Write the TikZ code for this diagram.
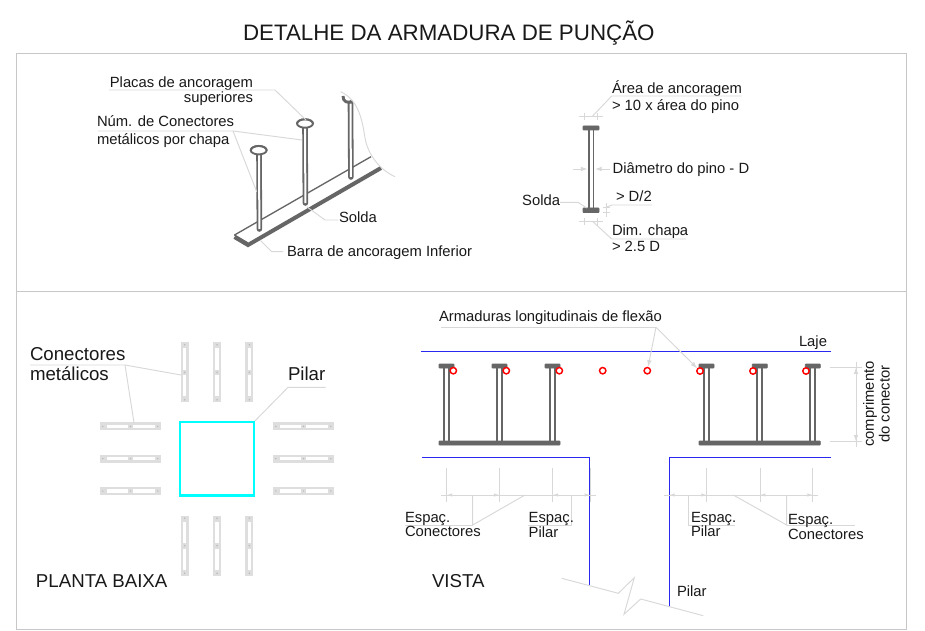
\documentclass[tikz,border=0pt]{standalone}
\usepackage{fontspec}
\setmainfont{Liberation Sans}
\usetikzlibrary{arrows.meta}
\definecolor{leadc}{RGB}{216,216,216}
\definecolor{barc}{RGB}{222,222,222}
\definecolor{steel}{RGB}{102,102,102}
\definecolor{pilarcyan}{RGB}{0,255,255}
\definecolor{edgeblue}{RGB}{40,40,240}
\tikzset{
 lbl/.style={anchor=base west,inner sep=0pt,outer sep=0pt,font=\fontsize{11.1pt}{13pt}\selectfont,text=black!90},
 lblr/.style={lbl,anchor=base east},
 big/.style={lbl,font=\fontsize{14pt}{16pt}\selectfont},
 leader/.style={draw=leadc,line width=.7pt},
 frameline/.style={draw=black!22,line width=.5pt},
 dimtip/.style={leader,{Latex[length=4pt,width=2.5pt,fill=leadc]}-{Latex[length=4pt,width=2.5pt,fill=leadc]}},
 tip/.style={leader,-{Latex[length=5pt,width=3.5pt,fill=leadc]}},
 concreteedge/.style={draw=edgeblue,line width=1pt},
 steelline/.style={draw=steel,line width=1.3pt},
 steelfill/.style={draw=steel,fill=steel,line width=.5pt,rounded corners=.4pt},
 rebar/.style={draw=red,line width=1.1pt,fill=white,circle,minimum size=4.8pt,inner sep=0pt},
 barbox/.style={fill=barc,draw=none},
 slot/.style={fill=white,draw=none}
}
\newcommand{\horbar}[2]{% left x, centre y
 \fill[barbox] (#1,#2-4) rectangle (#1+60.5,#2+4);
 \fill[slot] (#1+6.5,#2-1.7) rectangle (#1+28,#2+1.7);
 \fill[slot] (#1+33,#2-1.7) rectangle (#1+54.5,#2+1.7);
 \foreach \d in {2.5,30.2,57.5} \fill[black!30] (#1+\d,#2) circle (.7);
}
\newcommand{\verbar}[2]{% centre x, top y
 \fill[barbox] (#1-4,#2) rectangle (#1+4,#2+60);
 \fill[slot] (#1-1.7,#2+6) rectangle (#1+1.7,#2+27.5);
 \fill[slot] (#1-1.7,#2+33) rectangle (#1+1.7,#2+54);
 \foreach \d in {2.5,30,57.5} \fill[black!28] (#1,#2+\d) circle (.8);
}
\newcommand{\elevstud}[1]{% plate left x
 \fill[steelfill] (#1,364) rectangle (#1+15,368);
 \draw[steelline] (#1+5,368) -- (#1+5,441);
 \draw[steelline] (#1+10,368) -- (#1+10,441);
}
\newcommand{\isostud}[3]{% x, plate y, bottom y
 \draw[draw=steel,line width=4.2pt,line cap=round] (#1,#2) -- (#1+.4,#3);
 \draw[draw=white,line width=1.5pt] (#1,#2) -- (#1+.4,#3);
}
\begin{document}
\begin{tikzpicture}[x=.75pt,y=-.75pt]
\useasboundingbox (0,0) rectangle (925,631);
\fill[white] (0,0) rectangle (925,631);
% title and frame
\node[lbl,font=\fontsize{16.75pt}{20pt}\selectfont] (title) at (243,41) {DETALHE DA ARMADURA DE PUNÇÃO};
\coordinate (fa) at (16,53); \coordinate (fb) at (906,629);
\coordinate (da) at (16,291); \coordinate (db) at (906,291);
\draw[frameline] (fa) rectangle (fb);
\draw[frameline] (da) -- (db);

% ---------- isometric view
\coordinate (ba) at (234.5,235); \coordinate (bb) at (371,156.7);
\coordinate (bc) at (248,243); \coordinate (bd) at (381,168);
\draw[steel,line width=1pt] (ba) -- (bb);
\draw[steel,line width=1pt] (ba) -- (bc);
\draw[steel,line width=3pt] (234.5,237) -- (248,245) -- (bd);
\isostud{259}{152}{229}
\isostud{305}{125}{203}
\isostud{350.5}{103}{177}
\foreach \cx/\cy in {258.7/150.7,305/124}{
  \draw[steel,line width=1.4pt,fill=white] (\cx,\cy-.5) ellipse (8 and 4.2);
  \draw[steel,line width=1.4pt] (\cx-8,\cy) arc (180:360:8 and 4.8);
}
\draw[steel,line width=2.2pt] (343,96) .. controls (343,102) and (347,103) .. (353,102);
\coordinate (cut1) at (340.7,91.7); \coordinate (cut2) at (395,176.7);
\draw[leader] (cut1) .. controls (358,100) and (362,118) .. (365,138) .. controls (368,155) and (380,170) .. (cut2);

\node[lblr] (placas) at (253,88) {Placas de ancoragem};
\node[lblr] (sup) at (253,103) {superiores};
\node[lbl] (num) at (97,126.7) {Núm. de Conectores};
\node[lbl] (metal) at (97,145) {metálicos por chapa};
\node[lbl] (solda) at (339,223) {Solda};
\node[lbl] (barra) at (287,256.7) {Barra de ancoragem Inferior};
\coordinate (p1) at (109,90); \coordinate (p2) at (275,90); \coordinate (p3) at (306,120);
\draw[leader] (p1) -- (p2) -- (p3);
\coordinate (n1) at (98,131); \coordinate (n2) at (233,131); \coordinate (n3) at (302,140); \coordinate (n4) at (256.7,191.7);
\draw[leader] (n1) -- (n2) -- (n3);
\draw[leader] (n2) -- (n4);
\coordinate (s1) at (306.7,206.7); \coordinate (s2) at (325,220); \coordinate (s3) at (338,220);
\draw[leader] (s1) -- (s2) -- (s3);
\coordinate (b1) at (260,240); \coordinate (b2) at (271.7,251.7); \coordinate (b3) at (283,251.7);
\draw[leader] (b1) -- (b2) -- (b3);

% ---------- single connector detail
\fill[steelfill] (583,126) rectangle (599,130);
\fill[steelfill] (583,208) rectangle (599,212.5);
\draw[steelline] (589,130) -- (589,208);
\draw[steelline] (593.5,130) -- (593.5,208);
\node[lbl] (area) at (612,94) {Área de ancoragem};
\node[lbl] (area2) at (612,110.7) {> 10 x área do pino};
\node[lbl] (diam) at (612.7,173.3) {Diâmetro do pino - D};
\node[lbl] (d2) at (616,202) {> D/2};
\node[lblr] (solda2) at (560,206) {Solda};
\node[lbl] (chapa) at (612,236) {Dim. chapa};
\node[lbl] (chapa2) at (612,252) {> 2.5 D};
\coordinate (t1) at (579,116.7); \coordinate (t2) at (603,116.7);
\draw[leader] (t1) -- (t2);
\draw[leader] (584,113) -- (584,120); \draw[leader] (597,113) -- (597,120);
\coordinate (a1) at (592,116.7); \coordinate (a2) at (611.7,96); \coordinate (a3) at (741.7,96);
\draw[leader] (a1) -- (a2) -- (a3);
\coordinate (d1) at (573,169); \coordinate (d3) at (587.5,169); \coordinate (d4) at (595,169); \coordinate (d5) at (610,169);
\draw[tip] (d1) -- (d3); \draw[tip] (d5) -- (d4);
\coordinate (c1) at (579,221.7); \coordinate (c2) at (603,221.7);
\draw[leader] (c1) -- (c2);
\draw[leader] (584,218) -- (584,225); \draw[leader] (597,218) -- (597,225);
\coordinate (e1) at (593,221.7); \coordinate (e2) at (611.7,239); \coordinate (e3) at (686,239);
\draw[leader] (e1) -- (e2) -- (e3);
\coordinate (g1) at (606.7,203); \coordinate (g2) at (606.7,217);
\draw[leader] (g1) -- (g2);
\draw[leader] (603,207) -- (610,207); \draw[leader] (603,212) -- (610,212);
\coordinate (g3) at (606.7,207); \coordinate (g4) at (612,205); \coordinate (g5) at (652,205);
\draw[leader] (g3) -- (g4) -- (g5);
\coordinate (h1) at (560,202.3); \coordinate (h2) at (578,202.3); \coordinate (h3) at (586.7,208);
\draw[leader] (h1) -- (h2) -- (h3);

% ---------- plan
\foreach \x in {184.7,217,249.3}{\verbar{\x}{342.3}\verbar{\x}{515.7}}
\foreach \y in {426.3,458.7,491}{\horbar{100.3}{\y}\horbar{273.3}{\y}}
\node[draw=pilarcyan,line width=1.6pt,minimum width=55.2pt,minimum height=55.2pt,inner sep=0pt,rectangle] (pilarq) at (217.2,458.7) {};
\node[big] (con1) at (30,360) {Conectores};
\node[big] (con2) at (30,380) {metálicos};
\node[big] (pil) at (288,380.7) {Pilar};
\node[big] (planta) at (36,587.7) {PLANTA BAIXA};
\coordinate (k1) at (30,365); \coordinate (k2) at (125,365); \coordinate (k3) at (181,375); \coordinate (k4) at (134,422.7);
\draw[leader] (k1) -- (k2) -- (k3);
\draw[leader] (k2) -- (k4);
\coordinate (l1) at (325.7,387.3); \coordinate (l2) at (288,387.3);
\draw[leader] (l1) -- (l2) -- (pilarq.north east);

% ---------- elevation
\coordinate (la) at (421,351.3); \coordinate (lb) at (831,351.3);
\draw[concreteedge] (la) -- (lb);
\coordinate (sa) at (422,457.3); \coordinate (sb) at (589.7,457.3); \coordinate (sc) at (589.7,585);
\draw[concreteedge] (sa) -- (sb) -- (sc);
\coordinate (ra) at (830.7,457.3); \coordinate (rb) at (669.3,457.3); \coordinate (rc) at (669.3,606.7);
\draw[concreteedge] (ra) -- (rb) -- (rc);
\coordinate (w1) at (561.7,578.3); \coordinate (w2) at (618.3,593.3); \coordinate (w3) at (634.3,577.7);
\coordinate (w4) at (624,614.3); \coordinate (w5) at (640.7,599); \coordinate (w6) at (703.3,615.7);
\draw[leader] (w1) -- (w2) -- (w3) -- (w4) -- (w5) -- (w6);

\foreach \x in {439,492,545,699,752.3,805.3}{\elevstud{\x}}
\fill[steelfill] (439,441) rectangle (560,445);
\fill[steelfill] (699,441) rectangle (820.3,445);
\node[rebar] (r1) at (453.3,370.7) {};
\node[rebar] (r2) at (506.3,370.7) {};
\node[rebar] (r3) at (559.3,370.7) {};
\node[rebar] (r4) at (602.7,370.7) {};
\node[rebar] (r5) at (647.3,370.7) {};
\node[rebar] (r6) at (700,371) {};
\node[rebar] (r7) at (753,371) {};
\node[rebar] (r8) at (806,371) {};

\node[lbl] (arm) at (439,321.7) {Armaduras longitudinais de flexão};
\node[lbl] (laje) at (799,346) {Laje};
\coordinate (m1) at (441,327.3); \coordinate (m2) at (656,327.3);
\draw[leader] (m1) -- (m2);
\draw[tip] (m2) -- (r5);
\draw[tip] (m2) -- (r6);

% length dimension
\coordinate (q1) at (830,367.3); \coordinate (q2) at (861.7,367.3);
\coordinate (q3) at (830,441.7); \coordinate (q4) at (861.7,441.7);
\coordinate (q5) at (856,361.7); \coordinate (q6) at (856,446.7);
\draw[leader] (q1) -- (q2); \draw[leader] (q3) -- (q4);
\draw[leader] (q5) -- (q6);
\draw[tip] (856,375) -- (856,367.3); \draw[tip] (856,434) -- (856,441.7);
\node[lbl,anchor=center,align=center,rotate=90,font=\fontsize{11.1pt}{11.8pt}\selectfont] (comp) at (876.5,404) {comprimento\\do conector};

% lower dimensions, left
\coordinate (x1) at (440.7,495); \coordinate (x2) at (595.7,495);
\draw[leader] (x1) -- (x2);
\foreach \x in {446.7,499.3,552.7,590}{\draw[leader] (\x,468.3) -- (\x,501.7);}
\draw[dimtip] (446.7,495) -- (499.3,495);
\draw[dimtip] (552.7,495) -- (590,495);
\coordinate (y1) at (472.7,495); \coordinate (y2) at (472.7,525); \coordinate (y3) at (525,495); \coordinate (y4) at (405,525);
\draw[leader] (y1) -- (y2) -- (y3);
\draw[leader] (y4) -- (y2);
\coordinate (z1) at (571.7,495); \coordinate (z2) at (571.7,525); \coordinate (z3) at (528.3,525);
\draw[leader] (z1) -- (z2) -- (z3);
% lower dimensions, right
\coordinate (x3) at (664,495); \coordinate (x4) at (818.3,495);
\draw[leader] (x3) -- (x4);
\foreach \x in {706.7,760,812.7}{\draw[leader] (\x,468.3) -- (\x,501.7);}
\draw[dimtip] (669.3,495) -- (706.7,495);
\draw[dimtip] (760,495) -- (812.7,495);
\coordinate (u1) at (688.3,495); \coordinate (u2) at (688.3,525); \coordinate (u3) at (735,525);
\draw[leader] (u1) -- (u2) -- (u3);
\coordinate (v1) at (733.3,495); \coordinate (v2) at (786.7,525); \coordinate (v3) at (786.7,495); \coordinate (v4) at (855,525);
\draw[leader] (v1) -- (v2) -- (v3);
\draw[leader] (v2) -- (v4);

\node[lbl] (e1t) at (405,522.3) {Espaç.};
\node[lbl] (e2t) at (405,536.7) {Conectores};
\node[lbl] (e3t) at (528.7,522.3) {Espaç.};
\node[lbl] (e4t) at (528.7,537.7) {Pilar};
\node[lbl] (e5t) at (691,522.3) {Espaç.};
\node[lbl] (e6t) at (691,536.7) {Pilar};
\node[lbl] (e7t) at (788,524) {Espaç.};
\node[lbl] (e8t) at (788,539) {Conectores};
\node[big] (vista) at (432,587) {VISTA};
\node[lbl] (pil2) at (677,596.7) {Pilar};
\end{tikzpicture}
\end{document}
